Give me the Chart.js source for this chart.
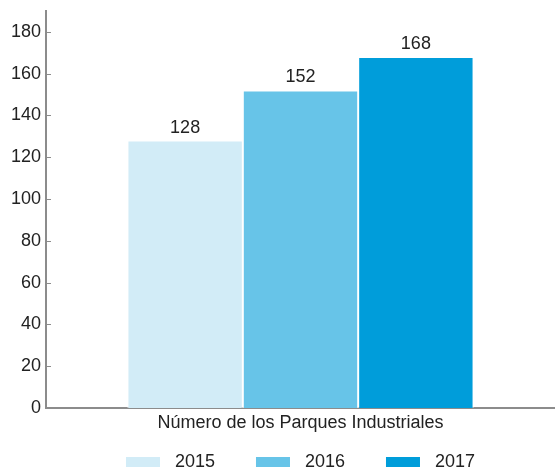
<!DOCTYPE html>
<html>
<head>
<meta charset="utf-8">
<script src="https://cdn.jsdelivr.net/npm/chart.js@4"></script>
<style>
  html, body { margin: 0; padding: 0; background: #fff; }
  #wrap { width: 555px; height: 469px; }
</style>
</head>
<body>
<div id="wrap"><canvas id="parquesChart"></canvas></div>
<script>
const categories = ["Número de los Parques Industriales"];
const years = ["2015", "2016", "2017"];
const values = [128, 152, 168];
const colors = ["#d2ecf7", "#67c4e8", "#009dda"];
const yTicks = [0, 20, 40, 60, 80, 100, 120, 140, 160, 180];

const textColor = "#222";
const axisColor = "#8c8c8c";
const fontFamily = "'Liberation Sans', Arial, sans-serif";

// value labels above the bars
const barLabels = {
  id: "barLabels",
  afterDatasetsDraw(chart) {
    const ctx = chart.ctx;
    ctx.save();
    ctx.fillStyle = textColor;
    ctx.font = "18px " + fontFamily;
    ctx.textAlign = "center";
    ctx.textBaseline = "bottom";
    chart.data.datasets.forEach((ds, i) => {
      chart.getDatasetMeta(i).data.forEach((bar, j) => {
        ctx.fillText(ds.data[j], bar.x, bar.y - 4);
      });
    });
    ctx.restore();
  }
};

// small tick marks pointing into the plot
const innerTicks = {
  id: "innerTicks",
  afterDraw(chart) {
    const y = chart.scales.y;
    const ctx = chart.ctx;
    ctx.save();
    ctx.strokeStyle = axisColor;
    ctx.lineWidth = 1;
    y.ticks.forEach(t => {
      const py = Math.round(y.getPixelForValue(t.value)) + 0.5;
      ctx.beginPath();
      ctx.moveTo(y.right, py);
      ctx.lineTo(y.right + 5, py);
      ctx.stroke();
    });
    ctx.restore();
  }
};

// legend row at the bottom (wider spacing than the built-in one allows)
const bottomLegend = {
  id: "bottomLegend",
  afterDraw(chart) {
    const ctx = chart.ctx;
    const boxW = 34, boxH = 10, gap = 15, stride = 130;
    const cy = chart.height - 7;
    ctx.save();
    ctx.font = "18px " + fontFamily;
    ctx.textBaseline = "middle";
    const ds = chart.data.datasets;
    const lastW = ctx.measureText(ds[ds.length - 1].label).width;
    const total = stride * (ds.length - 1) + boxW + gap + lastW;
    let x = (chart.chartArea.left + chart.chartArea.right) / 2 - total / 2;
    ds.forEach(d => {
      ctx.fillStyle = d.backgroundColor;
      ctx.fillRect(x, cy - boxH / 2, boxW, boxH);
      ctx.fillStyle = textColor;
      ctx.fillText(d.label, x + boxW + gap, cy);
      x += stride;
    });
    ctx.restore();
  }
};

new Chart(document.getElementById("parquesChart"), {
  type: "bar",
  data: {
    labels: categories,
    datasets: years.map((yr, i) => ({
      label: yr,
      data: [values[i]],
      backgroundColor: colors[i],
      borderColor: "#fff",
      borderWidth: 1,
      categoryPercentage: 0.68,
      barPercentage: 1
    }))
  },
  options: {
    responsive: true,
    maintainAspectRatio: false,
    animation: false,
    layout: { padding: { top: 11, right: 0, left: 0, bottom: 33 } },
    plugins: {
      tooltip: { enabled: false },
      legend: { display: false }
    },
    scales: {
      x: {
        afterFit(axis) { axis.height = 28; },
        grid: { display: false, drawTicks: false },
        border: { color: axisColor, width: 2 },
        ticks: {
          color: textColor,
          font: { family: fontFamily, size: 18 },
          padding: 4
        }
      },
      y: {
        min: 0,
        max: 190,
        afterBuildTicks(axis) {
          axis.ticks = yTicks.map(v => ({ value: v }));
        },
        afterFit(axis) {
          axis.width = 46;
          axis.paddingTop = 0;
        },
        grid: { display: false, drawTicks: false },
        border: { color: axisColor, width: 2 },
        ticks: {
          color: textColor,
          font: { family: fontFamily, size: 18 },
          padding: 5
        }
      }
    }
  },
  plugins: [barLabels, innerTicks, bottomLegend]
});
</script>
</body>
</html>
